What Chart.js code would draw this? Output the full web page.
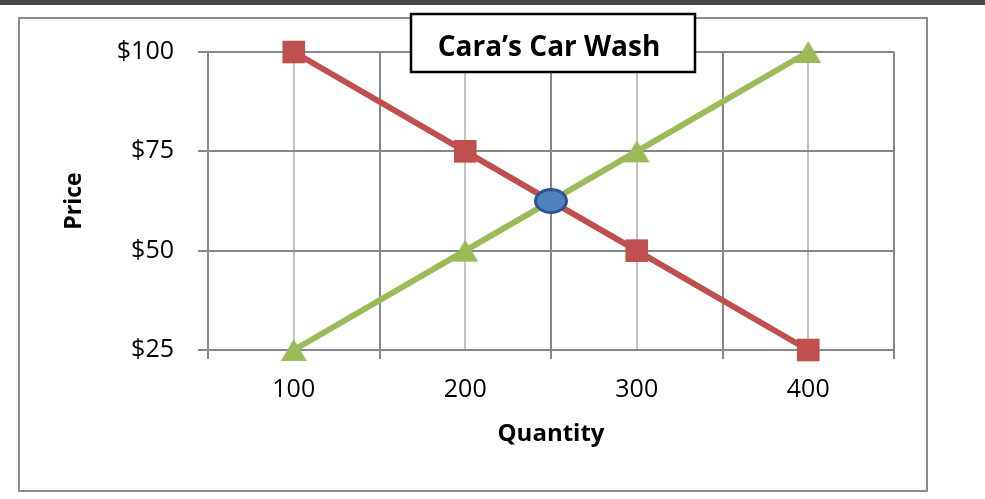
<!DOCTYPE html>
<html>
<head>
<meta charset="utf-8">
<script src="https://cdn.jsdelivr.net/npm/chart.js@4"></script>
<style>
  html, body { margin: 0; padding: 0; background: #fff; }
  .topbar { position: absolute; left: 0; top: 0; width: 985px; height: 5px; background: #484848; }
  .wrap { position: absolute; left: 0; top: 0; width: 985px; height: 499px; }
</style>
</head>
<body>
<div class="wrap"><canvas id="washChart" width="985" height="499"></canvas></div>
<div class="topbar"></div>
<script>
// chart data
const quantities = [100, 200, 300, 400];
const demandPrices = [100, 75, 50, 25];
const supplyPrices = [25, 50, 75, 100];
const equilibrium = [{ x: 250, y: 62.5 }];
const yTicks = [25, 50, 75, 100];

const FONT = "'Open Sans', sans-serif";

// green triangle centered on its bounding box (like Excel does)
function makeTriangle() {
  const c = document.createElement('canvas');
  c.width = 28; c.height = 24;
  const g = c.getContext('2d');
  g.fillStyle = '#9BBB59';
  g.beginPath();
  g.moveTo(14, 1);
  g.lineTo(27, 23);
  g.lineTo(1, 23);
  g.closePath();
  g.fill();
  return c;
}

// blue oval for the crossing point
function makeOval() {
  const c = document.createElement('canvas');
  c.width = 38; c.height = 30;
  const g = c.getContext('2d');
  g.beginPath();
  g.ellipse(19, 15, 15.5, 11.5, 0, 0, Math.PI * 2);
  g.fillStyle = '#4F81BD';
  g.fill();
  g.lineWidth = 3;
  g.strokeStyle = '#2D5391';
  g.stroke();
  return c;
}

// white page + grey frame round the whole chart
const framePlugin = {
  id: 'frame',
  beforeDraw(chart) {
    const ctx = chart.ctx;
    ctx.save();
    ctx.fillStyle = '#fff';
    ctx.fillRect(0, 0, chart.width, chart.height);
    ctx.strokeStyle = '#8c8c8c';
    ctx.lineWidth = 2;
    ctx.strokeRect(19, 18, 908, 473);
    ctx.restore();
  }
};

// boxed title sitting over the top of the plot
const titleBoxPlugin = {
  id: 'titleBox',
  afterDraw(chart) {
    const ctx = chart.ctx;
    ctx.save();
    ctx.fillStyle = '#fff';
    ctx.fillRect(411, 14, 284, 58);
    ctx.strokeStyle = '#000';
    ctx.lineWidth = 2.5;
    ctx.strokeRect(411, 14, 284, 58);
    ctx.fillStyle = '#000';
    ctx.font = 'bold 28px ' + FONT;
    ctx.textAlign = 'center';
    ctx.textBaseline = 'middle';
    ctx.fillText('Cara\u2019s Car Wash', 549, 48);
    ctx.restore();
  }
};

const ctx = document.getElementById('washChart').getContext('2d');

const washChart = new Chart(ctx, {
  type: 'line',
  data: {
    datasets: [{
      label: 'Demand',
      data: quantities.map((q, i) => ({ x: q, y: demandPrices[i] })),
      borderColor: '#C0504D',
      backgroundColor: '#C0504D',
      borderWidth: 6,
      pointStyle: 'rect',
      pointRadius: 16,
      pointBorderWidth: 0,
      clip: false,
      order: 2
    }, {
      label: 'Supply',
      data: quantities.map((q, i) => ({ x: q, y: supplyPrices[i] })),
      borderColor: '#9BBB59',
      backgroundColor: '#9BBB59',
      borderWidth: 6,
      pointStyle: makeTriangle(),
      clip: false,
      order: 1
    }, {
      label: 'Equilibrium',
      data: equilibrium,
      showLine: false,
      pointStyle: makeOval(),
      clip: false,
      order: 0
    }]
  },
  options: {
    responsive: false,
    animation: false,
    layout: { padding: { left: 57, top: 52, right: 91, bottom: 46 } },
    plugins: {
      legend: { display: false },
      tooltip: { enabled: false }
    },
    scales: {
      x: {
        type: 'linear',
        min: 50,
        max: 450,
        afterFit: (scale) => { scale.height = 103; },
        afterBuildTicks: (scale) => {
          scale.ticks = [50, 100, 150, 200, 250, 300, 350, 400, 450].map(v => ({ value: v }));
        },
        ticks: {
          padding: 16,
          color: '#000',
          font: { family: FONT, size: 25, weight: 500 },
          maxRotation: 0,
          autoSkip: false,
          callback: (v) => quantities.includes(v) ? String(v) : ''
        },
        grid: {
          lineWidth: 2,
          tickLength: 9,
          color: (c) => c.tick && c.tick.value % 100 === 0 ? '#c4c4c4' : '#878787',
          tickColor: (c) => c.tick && c.tick.value % 100 === 0 ? 'rgba(0,0,0,0)' : '#878787'
        },
        border: { display: false },
        title: {
          display: true,
          text: 'Quantity',
          color: '#000',
          font: { family: FONT, size: 24, weight: 'bold' }
        }
      },
      y: {
        min: 25,
        max: 100,
        afterFit: (scale) => { scale.width = 151; },
        afterBuildTicks: (scale) => {
          scale.ticks = yTicks.map(v => ({ value: v }));
        },
        ticks: {
          padding: 24,
          color: '#000',
          font: { family: FONT, size: 25, weight: 500 },
          callback: (v) => '$' + v
        },
        grid: {
          lineWidth: 2,
          tickLength: 10,
          color: '#878787'
        },
        border: { display: false },
        title: {
          display: true,
          text: 'Price',
          color: '#000',
          font: { family: FONT, size: 23, weight: 'bold' }
        }
      }
    }
  },
  plugins: [framePlugin, titleBoxPlugin]
});
</script>
</body>
</html>
